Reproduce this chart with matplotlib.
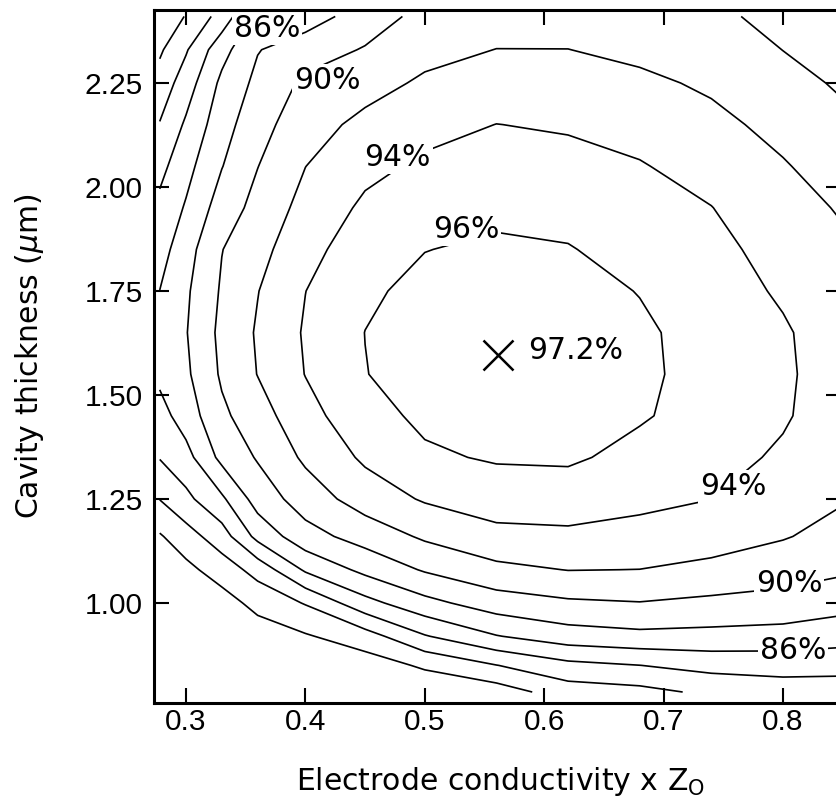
import matplotlib
matplotlib.use('Agg')
import matplotlib.pyplot as plt
from matplotlib.ticker import FormatStrFormatter
import numpy as np

# grid: efficiency (%) vs conductivity x Z0 (columns) and thickness (rows)
conductivity = [0.278, 0.30, 0.33, 0.36, 0.40, 0.45, 0.50, 0.56, 0.62, 0.68, 0.74, 0.80, 0.85]
thickness = [0.786, 0.85, 0.92, 1.00, 1.08, 1.16, 1.25, 1.35, 1.45, 1.55,
             1.65, 1.75, 1.85, 1.95, 2.05, 2.15, 2.25, 2.33, 2.41]

eff_0786 = [73.0, 74.0, 75.0, 76.5, 77.5, 78.0, 78.5, 79.0, 81.0, 81.4, 82.4, 83.0, 83.0]
eff_0850 = [74.0, 75.0, 76.0, 77.5, 78.5, 79.0, 80.3, 81.95, 83.45, 83.98, 84.67, 84.78, 84.67]
eff_0920 = [75.0, 76.5, 77.5, 78.9, 79.8, 81.1, 83.85, 85.9, 87.1, 87.5, 87.4, 87.24, 86.83]
eff_1000 = [76.5, 78.0, 79.1, 80.65, 82.13, 85.33, 87.4, 89.04, 89.7, 89.93, 89.56, 89.3, 88.7]
eff_1080 = [78.0, 79.45, 80.97, 82.7, 86.3, 88.53, 90.2, 91.5, 92.05, 91.98, 91.53, 90.87, 90.32]
eff_1160 = [79.8, 81.15, 83.07, 86.6, 89.26, 90.8, 92.3, 93.46, 93.63, 93.36, 92.84, 92.14, 91.3]
eff_1250 = [82.05, 83.5, 85.65, 88.87, 90.94, 92.93, 94.2, 94.93, 94.95, 94.47, 94.02, 92.85, 92.15]
eff_1350 = [84.1, 85.3, 88.56, 90.17, 92.35, 94.33, 95.7, 96.2, 96.3, 95.4, 94.8, 93.67, 92.5]
eff_1450 = [85.25, 86.95, 89.6, 91.16, 93.32, 95.3, 96.4, 96.75, 96.7, 96.2, 95.2, 94.25, 92.75]
eff_1550 = [86.45, 87.65, 90.28, 92.05, 94.05, 95.95, 96.75, 97.2, 97.0, 96.35, 95.35, 94.35, 92.9]
eff_1650 = [86.7, 87.9, 90.5, 92.2, 94.2, 96.02, 96.8, 97.15, 97.0, 96.3, 95.3, 94.25, 92.85]
eff_1750 = [86.02, 87.7, 90.23, 91.94, 93.98, 95.69, 96.5, 96.8, 96.6, 95.94, 95.0, 93.72, 92.6]
eff_1850 = [85.2, 87.2, 89.95, 91.28, 93.5, 94.86, 95.96, 96.3, 96.1, 95.33, 94.6, 93.2, 92.3]
eff_1950 = [84.5, 86.2, 88.95, 90.63, 92.66, 94.35, 95.16, 95.57, 95.4, 94.74, 94.04, 92.68, 91.83]
eff_2050 = [83.4, 85.35, 87.93, 89.96, 91.98, 93.5, 94.33, 94.77, 94.6, 94.13, 93.26, 92.15, 91.12]
eff_2150 = [82.1, 84.3, 87.2, 89.26, 91.2, 92.5, 93.4, 94.02, 93.8, 93.3, 92.5, 91.44, 90.42]
eff_2250 = [80.8, 83.0, 86.45, 88.5, 90.4, 91.28, 92.3, 92.9, 92.8, 92.4, 91.7, 90.63, 89.75]
eff_2330 = [79.7, 81.8, 85.3, 87.9, 89.1, 90.14, 91.4, 92.03, 92.02, 91.55, 91.1, 89.98, 89.2]
eff_2410 = [78.7, 80.1, 82.8, 86.6, 87.0, 89.0, 90.6, 91.1, 91.2, 90.9, 90.5, 89.3, 88.7]

levels = [80, 82, 84, 86, 88, 90, 92, 94, 96]

# optimum point
peak_cond = 0.561
peak_thick = 1.596
peak_eff = 97.2

# where the level labels sit (level, x, y)
label_spots = [(86, 0.368, 2.382), (90, 0.418, 2.257), (94, 0.477, 2.070),
               (96, 0.5345, 1.899), (94, 0.758, 1.279), (90, 0.805, 1.048),
               (86, 0.8085, 0.887)]

plt.rcParams['font.family'] = ['DejaVu Sans']
plt.rcParams['mathtext.fontset'] = 'dejavusans'

efficiency = np.array([eff_0786, eff_0850, eff_0920, eff_1000, eff_1080, eff_1160,
                       eff_1250, eff_1350, eff_1450, eff_1550, eff_1650, eff_1750,
                       eff_1850, eff_1950, eff_2050, eff_2150, eff_2250, eff_2330, eff_2410])

fig = plt.figure(figsize=(8.36, 7.99), dpi=100)
ax = fig.add_axes([154 / 836, 96 / 799, 687 / 836, 693 / 799])

ax.contour(conductivity, thickness, efficiency, levels=levels,
           colors='black', linewidths=1.2, zorder=2)

for lvl, lx, ly in label_spots:
    ax.text(lx, ly, f'{lvl}%', ha='center', va='center', fontsize=21.5,
            bbox=dict(facecolor='white', edgecolor='none', pad=1.5), zorder=2.2)

ax.plot(peak_cond, peak_thick, marker='x', ms=21, mew=1.8, color='black', zorder=3)
ax.text(peak_cond + 0.0255, peak_thick + 0.01, f'{peak_eff}%', ha='left', va='center',
        fontsize=21.5, zorder=3)

ax.set_xlim(0.2732, 0.8486)
ax.set_ylim(0.7596, 2.4255)
ax.set_xticks([0.3, 0.4, 0.5, 0.6, 0.7, 0.8])
ax.set_yticks([1.0, 1.25, 1.5, 1.75, 2.0, 2.25])
ax.xaxis.set_major_formatter(FormatStrFormatter('%.1f'))
ax.yaxis.set_major_formatter(FormatStrFormatter('%.2f'))
ax.tick_params(direction='in', length=10.8, width=1.5, top=True, right=True, labelsize=21.5)
ax.tick_params(axis='x', pad=3.5)
ax.tick_params(axis='y', pad=8)
for lbl in ax.get_xticklabels() + ax.get_yticklabels():
    lbl.set_fontfamily('Liberation Sans')
for sp in ax.spines.values():
    sp.set_linewidth(2.2)

ax.set_xlabel('Electrode conductivity x Z$_{\\mathrm{O}}$', fontsize=21.5)
ax.set_ylabel('Cavity thickness ($\\mu$m)', fontsize=21.5)
ax.xaxis.set_label_coords(0.504, -0.0895)
ax.yaxis.set_label_coords(-0.157, 0.5)

fig.savefig('out.png', dpi=100)
